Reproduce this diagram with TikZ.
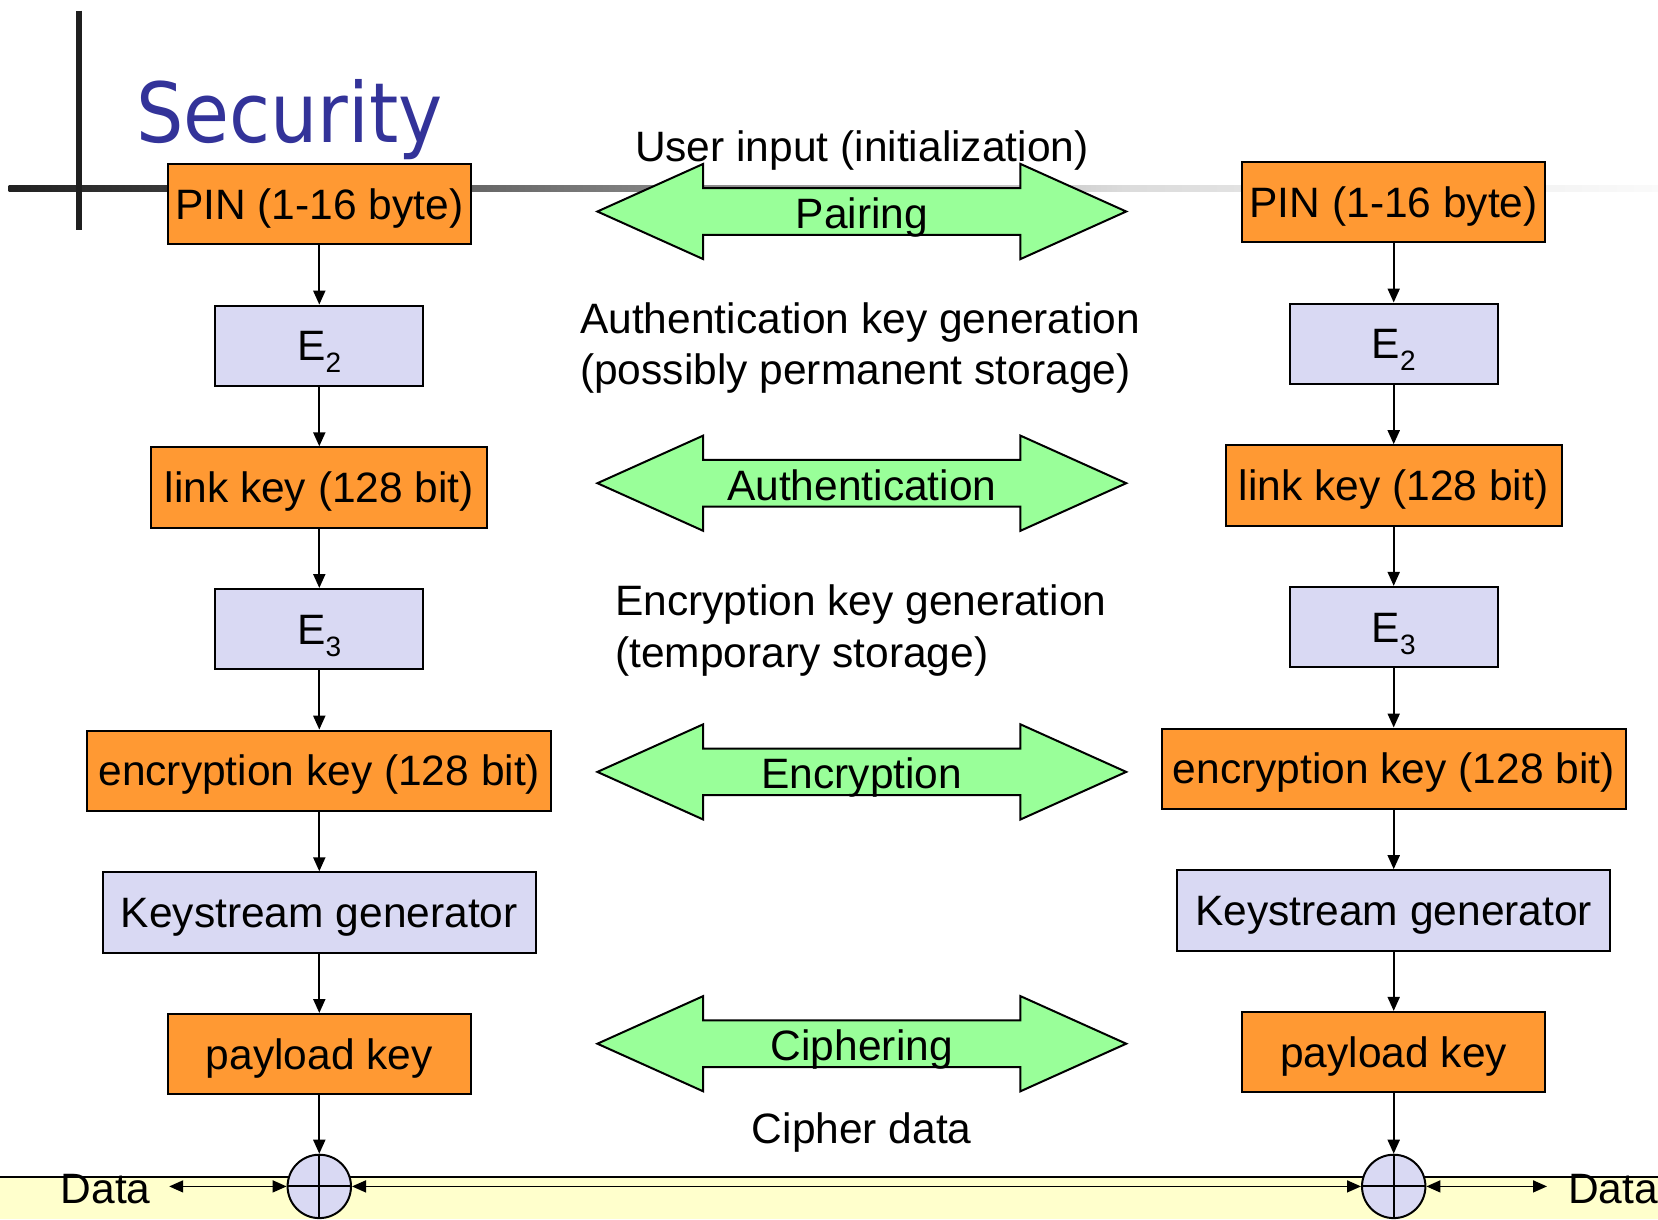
\documentclass[tikz,border=0pt]{standalone}
\usepackage{fontspec}
\setmainfont{Liberation Sans}
\newfontfamily\titlefont{DejaVu Sans Condensed}
\usetikzlibrary{arrows.meta}
\definecolor{orbox}{HTML}{FF9933}
\definecolor{lavbox}{HTML}{D9D9F3}
\definecolor{grn}{HTML}{99FF99}
\definecolor{yel}{HTML}{FFFFCC}
\definecolor{navy}{HTML}{333399}
\newcommand\subs[1]{\raisebox{-0.28em}{\fontsize{28}{28}\selectfont #1}}
\newcommand\garrow[3]{%
  \draw[garrowshape] (597.4,#2) -- (703.2,#2-47.6) -- (703.2,#2-23.3) -- (1020.4,#2-23.3)
    -- (1020.4,#2-47.6) -- (1126.2,#2) -- (1020.4,#2+47.6) -- (1020.4,#2+23.3)
    -- (703.2,#2+23.3) -- (703.2,#2+47.6) -- cycle;
  \node[txt] (#1) at (861.8,#2+2) {#3};}
\begin{document}
\begin{tikzpicture}[x=1pt,y=-1pt,
  txt/.style={inner sep=0pt, text height=35pt, text depth=5pt, font=\fontsize{42.5}{51}\selectfont},
  box/.style={txt, draw=black, line width=2pt, minimum height=80.4pt},
  obox/.style={box, fill=orbox},
  lbox/.style={box, fill=lavbox},
  conn/.style={-{Triangle[length=14pt,width=12pt]}, line width=2pt},
  dconn/.style={{Triangle[length=14pt,width=12pt]}-{Triangle[length=14pt,width=12pt]}, line width=1.6pt},
  xorc/.style={draw=black, circle, fill=lavbox, line width=2pt, minimum size=63.4pt, inner sep=0pt},
  garrowshape/.style={draw=black, fill=grn, line width=2pt, line join=miter}
]
\useasboundingbox (0,0) rectangle (1658,1219);
\fill[white] (0,0) rectangle (1658,1219);

% title decoration
\shade[left color=black!87, right color=black!60] (8.5,185.2) rectangle (470,191.2);
\shade[left color=black!60, right color=black!46] (470,185.2) rectangle (700,191.2);
\shade[left color=black!46, right color=black!14] (700,185.2) rectangle (1126,191.2);
\shade[left color=black!14, right color=black!2] (1126,185.2) rectangle (1658,191.2);
\draw[line width=6.5pt, black!88] (79,10.6) -- (79,229.5);
\node[anchor=base west, text=navy, inner sep=0pt, font=\titlefont\fontsize{83}{90}\selectfont] (title) at (136,142.7) {Security};

% bottom strip
\fill[yel] (0,1177) rectangle (1658,1219);
\draw[line width=2pt] (0,1177) -- (1658,1177);

% left column
\node[obox, minimum width=303.5pt] (lpin) at (319.3,204) {PIN (1-16 byte)};
\node[lbox, minimum width=208.3pt] (le2) at (319.3,345.8) {E\subs{2}};
\node[obox, minimum width=336pt] (llink) at (319.3,487.5) {link key (128 bit)};
\node[lbox, minimum width=208.3pt] (le3) at (319.3,629.2) {E\subs{3}};
\node[obox, minimum width=464pt] (lenc) at (319.3,770.8) {encryption key (128 bit)};
\node[lbox, minimum width=432.5pt] (lks) at (319.3,912.5) {Keystream generator};
\node[obox, minimum width=303.5pt] (lpay) at (319.3,1054.2) {payload key};
\node[xorc] (lx) at (319.3,1186.4) {};
\draw[line width=2pt] (lx.north) -- (lx.south) (lx.west) -- (lx.east);

% right column
\node[obox, minimum width=303.5pt] (rpin) at (1393.7,202) {PIN (1-16 byte)};
\node[lbox, minimum width=208.3pt] (re2) at (1393.7,343.7) {E\subs{2}};
\node[obox, minimum width=336pt] (rlink) at (1393.7,485.4) {link key (128 bit)};
\node[lbox, minimum width=208.3pt] (re3) at (1393.7,627.1) {E\subs{3}};
\node[obox, minimum width=464pt] (renc) at (1393.7,768.7) {encryption key (128 bit)};
\node[lbox, minimum width=432.5pt] (rks) at (1393.7,910.4) {Keystream generator};
\node[obox, minimum width=303.5pt] (rpay) at (1393.7,1052.1) {payload key};
\node[xorc] (rx) at (1393.7,1186.4) {};
\draw[line width=2pt] (rx.north) -- (rx.south) (rx.west) -- (rx.east);

% vertical connectors
\foreach \a/\b in {lpin/le2, le2/llink, llink/le3, le3/lenc, lenc/lks, lks/lpay, lpay/lx,
                   rpin/re2, re2/rlink, rlink/re3, re3/renc, renc/rks, rks/rpay, rpay/rx}
  \draw[conn] (\a) -- (\b);

% green double arrows
\garrow{pair}{211.5}{Pairing}
\garrow{auth}{483.2}{Authentication}
\garrow{encr}{771.9}{Encryption}
\garrow{ciph}{1043.7}{Ciphering}

% descriptive texts
\node[txt] (userin) at (861.8,146) {User input (initialization)};
\node[txt, anchor=west] (akg1) at (580,318.3) {Authentication key generation};
\node[txt, anchor=west] (akg2) at (580,369) {(possibly permanent storage)};
\node[txt, anchor=west] (ekg1) at (615,600.6) {Encryption key generation};
\node[txt, anchor=west] (ekg2) at (615,652.4) {(temporary storage)};
\node[txt] (cdata) at (861.8,1128.2) {Cipher data};

% data lines
\node[txt] (ldata) at (105.7,1188) {Data};
\coordinate (ldend) at (169.2,1186.4);
\draw[dconn] (ldend) -- (lx.west);
\draw[dconn] (lx.east) -- (rx.west);
\node[txt, anchor=west] (rdata) at (1568,1188) {Data};
\coordinate (rdend) at (1547,1186.4);
\draw[dconn] (rx.east) -- (rdend);
\end{tikzpicture}
\end{document}
